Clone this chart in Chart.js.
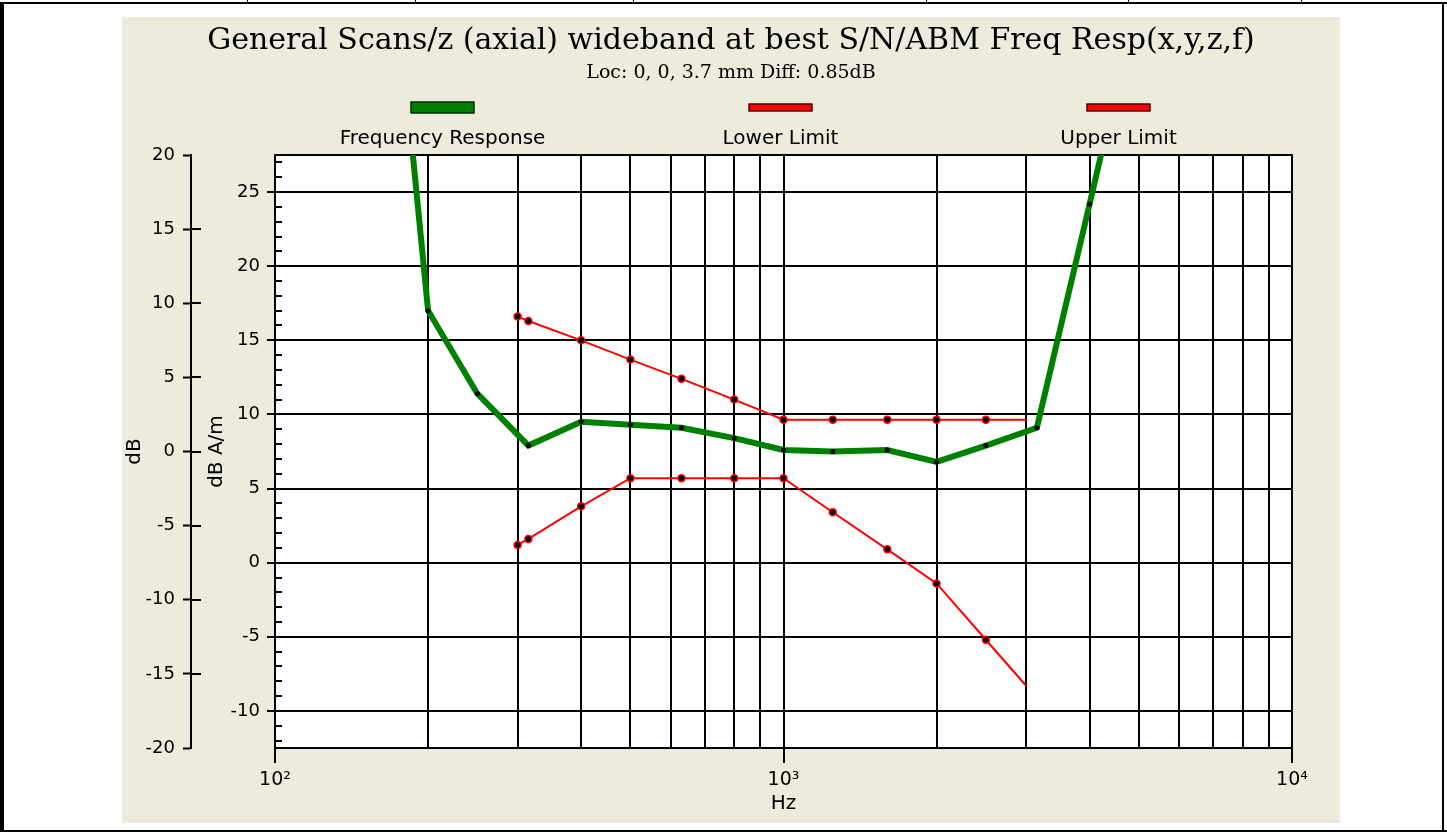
<!DOCTYPE html>
<html><head><meta charset="utf-8">
<script src="https://cdn.jsdelivr.net/npm/chart.js@4.4.1/dist/chart.umd.min.js"></script>
<style>
html,body{margin:0;padding:0;background:#fff;width:1447px;height:837px;overflow:hidden;}
#c{position:absolute;left:122px;top:17px;}
.ln{position:absolute;background:#000;}
</style></head><body>
<canvas id="c" width="1218" height="806"></canvas>
<div class="ln" style="left:0;top:2px;width:1447px;height:2px"></div>
<div class="ln" style="left:0;top:2px;width:4px;height:830px"></div>
<div class="ln" style="left:1442px;top:2px;width:2px;height:830px"></div>
<div class="ln" style="left:0;top:830px;width:1447px;height:2px"></div>
<div class="ln" style="left:247px;top:0;width:1px;height:3px"></div>
<div class="ln" style="left:415px;top:0;width:1px;height:3px"></div>
<div class="ln" style="left:633px;top:0;width:1px;height:3px"></div>
<div class="ln" style="left:926px;top:0;width:1px;height:3px"></div>
<div class="ln" style="left:1128px;top:0;width:1px;height:3px"></div>
<div class="ln" style="left:1301px;top:0;width:1px;height:3px"></div>
<script>
// ---- data ----
const seriesNames = ['Frequency Response', 'Lower Limit', 'Upper Limit'];
const responseFreq = [160, 200, 250, 315, 400, 500, 630, 800, 1000, 1250, 1600, 2000, 2500, 3150, 4000, 5000];
const responseDb   = [51.0, 17.0, 11.4, 7.9, 9.5, 9.3, 9.1, 8.4, 7.6, 7.5, 7.6, 6.8, 7.9, 9.1, 24.2, 38.5];
const limitFreq    = [300, 315, 400, 500, 630, 800, 1000, 1250, 1600, 2000, 2500, 3000];
const lowerLimitDb = [1.2, 1.6, 3.8, 5.7, 5.7, 5.7, 5.7, 3.4, 0.9, -1.4, -5.2, -8.3];
const upperLimitDb = [16.6, 16.3, 15.0, 13.7, 12.4, 11.0, 9.65, 9.65, 9.65, 9.65, 9.65, 9.65];
const xTickValues  = [100, 200, 300, 400, 500, 600, 700, 800, 900, 1000, 2000, 3000, 4000, 5000, 6000, 7000, 8000, 9000, 10000];
const xTickLabels  = {100: '10²', 1000: '10³', 10000: '10⁴'};
const yMajorTicks  = [-10, -5, 0, 5, 10, 15, 20, 25];
const yOuterTicks  = [-20, -15, -10, -5, 0, 5, 10, 15, 20];
const titleText    = 'General Scans/z (axial) wideband at best S/N/ABM Freq Resp(x,y,z,f)';
const subtitleText = 'Loc: 0, 0, 3.7 mm Diff: 0.85dB';

const yAllTicks = [];
for (let v = -12; v <= 27; v++) yAllTicks.push(v);

const GREEN = '#008000', RED = '#ff0000', BEIGE = '#ecebdc';

const decor = {
  id: 'decor',
  beforeDraw(chart) {
    const {ctx, chartArea: a} = chart;
    ctx.save();
    ctx.fillStyle = BEIGE;
    ctx.fillRect(0, 0, chart.width, chart.height);
    ctx.fillStyle = '#fff';
    ctx.fillRect(a.left, a.top, a.right - a.left, a.bottom - a.top);
    ctx.restore();
  },
  beforeDatasetsDraw(chart) {
    const {ctx, chartArea: a, scales} = chart;
    ctx.save();
    ctx.strokeStyle = '#000';
    ctx.lineWidth = 2;
    ctx.beginPath();
    const y = scales.y;
    yAllTicks.forEach(v => {
      if (v % 5 === 0) return;
      const py = Math.round(y.getPixelForValue(v));
      ctx.moveTo(a.left, py); ctx.lineTo(a.left + 7, py);
    });
    ctx.moveTo(a.left - 1, a.top); ctx.lineTo(a.right + 1, a.top);
    const y2 = scales.y2;
    yOuterTicks.forEach(v => {
      if (v === -20 || v === 20) return;
      const py = Math.round(y2.getPixelForValue(v));
      ctx.moveTo(y2.right, py); ctx.lineTo(y2.right + 10, py);
    });
    ctx.stroke();
    ctx.restore();
  },
  afterDraw(chart) {
    const {ctx, chartArea: a} = chart;
    const cx0 = (a.left + a.right) / 2 - 3;
    ctx.save();
    chart.data.datasets.forEach((ds, i) => {
      const cx = cx0 + (i - 1) * 338;
      const h = i === 0 ? 12 : 8;
      const yc = a.top - 47.5;
      ctx.fillStyle = ds.borderColor;
      ctx.fillRect(cx - 32, yc - h / 2, 64, h);
      ctx.strokeStyle = '#000';
      ctx.lineWidth = 1;
      ctx.strokeRect(cx - 32 + 0.5, yc - h / 2 + 0.5, 63, h - 1);
      ctx.fillStyle = '#000';
      ctx.font = '20px "DejaVu Sans"';
      ctx.textAlign = 'center';
      ctx.textBaseline = 'alphabetic';
      ctx.fillText(ds.label, cx, a.top - 11);
    });
    ctx.restore();
  }
};

Chart.defaults.font.family = '"DejaVu Sans"';
Chart.defaults.color = '#000';

new Chart(document.getElementById('c'), {
  type: 'line',
  data: {
    datasets: [
      {
        label: seriesNames[0],
        data: responseFreq.map((f, i) => ({x: f, y: responseDb[i]})),
        borderColor: GREEN, backgroundColor: GREEN, borderWidth: 6,
        pointRadius: 2.5, pointBackgroundColor: '#000', pointBorderWidth: 0,
        tension: 0, clip: 0
      },
      {
        label: seriesNames[1],
        data: limitFreq.map((f, i) => ({x: f, y: lowerLimitDb[i]})),
        borderColor: RED, backgroundColor: RED, borderWidth: 2,
        pointRadius: c => c.dataIndex === limitFreq.length - 1 ? 0 : 3.5,
        pointBackgroundColor: '#000', pointBorderColor: RED, pointBorderWidth: 1.5,
        tension: 0, clip: 0
      },
      {
        label: seriesNames[2],
        data: limitFreq.map((f, i) => ({x: f, y: upperLimitDb[i]})),
        borderColor: RED, backgroundColor: RED, borderWidth: 2,
        pointRadius: c => c.dataIndex === limitFreq.length - 1 ? 0 : 3.5,
        pointBackgroundColor: '#000', pointBorderColor: RED, pointBorderWidth: 1.5,
        tension: 0, clip: 0
      }
    ]
  },
  options: {
    responsive: false,
    animation: false,
    events: [],
    layout: {padding: 0},
    plugins: {
      legend: {display: false},
      tooltip: {enabled: false},
      title: {
        display: true, text: titleText, color: '#000',
        font: {family: '"DejaVu Serif"', size: 30, weight: 'normal', lineHeight: 1.2},
        padding: {top: 6, bottom: 0}
      },
      subtitle: {
        display: true, text: subtitleText, color: '#000',
        font: {family: '"DejaVu Serif"', size: 19, weight: 'normal', lineHeight: 1.2},
        padding: {top: 3, bottom: 70.2}
      }
    },
    scales: {
      x: {
        type: 'logarithmic', position: 'bottom', min: 100, max: 10000,
        afterBuildTicks: s => { s.ticks = xTickValues.map(v => ({value: v})); },
        afterFit: s => { s.height = 75; },
        ticks: {
          autoSkip: false, maxRotation: 0, minRotation: 0, padding: 6,
          font: {size: 19},
          callback: v => xTickLabels[v] || ''
        },
        grid: {
          color: '#000', lineWidth: 2, tickLength: 15, tickWidth: 2,
          tickColor: c => (c.tick && xTickLabels[c.tick.value]) ? '#000' : 'rgba(0,0,0,0)'
        },
        border: {display: true, color: '#000', width: 2},
        title: {display: true, text: 'Hz', font: {size: 20}, padding: {top: 0, bottom: 7}}
      },
      y: {
        type: 'linear', position: 'left', weight: 0, min: -12.5, max: 27.5,
        afterBuildTicks: s => { s.ticks = yAllTicks.map(v => ({value: v})); },
        afterFit: s => { s.width = 84; },
        ticks: {
          autoSkip: false, padding: 7, font: {size: 18},
          callback: v => yMajorTicks.includes(v) ? String(v) : ''
        },
        grid: {
          color: c => (c.tick && c.tick.value % 5 === 0) ? '#000' : 'rgba(0,0,0,0)',
          lineWidth: 2, tickLength: 8, tickWidth: 2,
          tickColor: c => (c.tick && c.tick.value % 5 === 0) ? '#000' : 'rgba(0,0,0,0)'
        },
        border: {display: true, color: '#000', width: 2},
        title: {display: true, text: 'dB A/m', font: {size: 20}, padding: {top: 14, bottom: 0}}
      },
      y2: {
        type: 'linear', position: 'left', weight: 1, min: -20, max: 20,
        afterFit: s => { s.width = 69; },
        ticks: {stepSize: 5, padding: 8, font: {size: 18}},
        grid: {drawOnChartArea: false, color: '#000', tickLength: 8, tickWidth: 2, tickColor: '#000'},
        border: {display: true, color: '#000', width: 2},
        title: {display: true, text: 'dB', font: {size: 20}, padding: {top: 1, bottom: 0}}
      },
      yRight: {
        type: 'linear', position: 'right', display: true,
        afterFit: s => { s.width = 48; },
        ticks: {display: false},
        grid: {display: false, drawTicks: false},
        border: {display: false}
      }
    }
  },
  plugins: [decor]
});
</script>
</body></html>
